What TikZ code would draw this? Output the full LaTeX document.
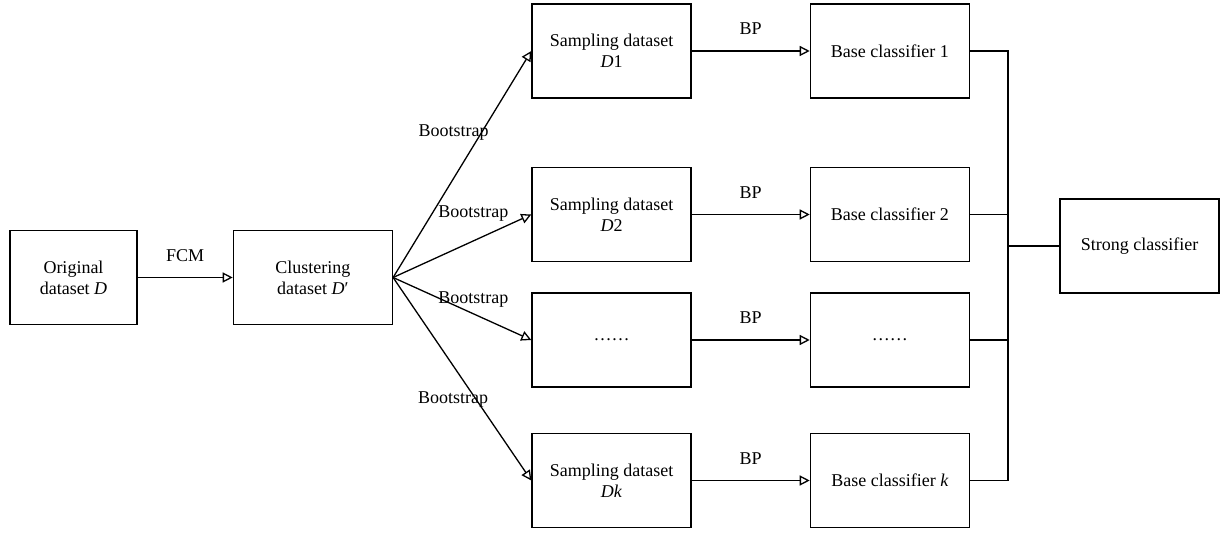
\documentclass[tikz,border=0pt]{standalone}
\usepackage{fontspec}
\setmainfont{Liberation Serif}
\usetikzlibrary{positioning,arrows.meta}

\begin{document}
\begin{tikzpicture}[x=0.5pt,y=-0.5pt,
            font=\fontsize{9}{10.5}\selectfont,
            simplebox/.style={
                rectangle, draw=black, line width=0.7pt,
                minimum width=79.5pt,
                minimum height=47pt,
                inner sep=2pt, align=center
            },
            flow/.style={-{Triangle[open,length=5pt,width=5pt]}, line width=0.65pt},
            joint/.style={line width=0.65pt},
        ]
            \useasboundingbox (0,0) rectangle (1225,533);

            \node [simplebox,minimum width=63.5pt] (orig) at (73.5,277.5) {Original\\dataset \textit{D}};
            \node [simplebox] (clust) [ right= 47.5pt of orig ] {Clustering\\dataset \textit{D}′};

            \node [simplebox] (samp1) at (611.5,51) {Sampling dataset\\\textit{D}1};
            \node [simplebox] (samp2) at (611.5,214.5) {Sampling dataset\\\textit{D}2};
            \node [simplebox] (sampdots) at (611.5,340) {……};
            \node [simplebox] (sampk) at (611.5,480.5) {Sampling dataset\\\textit{Dk}};

            \node [simplebox] (base1) [ right= 59pt of samp1 ] {Base classifier 1};
            \node [simplebox] (base2) [ right= 59pt of samp2 ] {Base classifier 2};
            \node [simplebox] (basedots) [ right= 59pt of sampdots ] {……};
            \node [simplebox] (basek) [ right= 59pt of sampk ] {Base classifier \textit{k}};

            \node [simplebox] (strong) at (1139.5,246) {Strong classifier};
            \coordinate (jn) at (1008,246);

            \draw[flow] (orig) -- (clust) node [above=4.5pt,midway] {FCM};

            \draw[flow] (clust.east) -- (samp1.west) node [pos=0.64,xshift=-14pt] {Bootstrap};
            \draw[flow] (clust.east) -- (samp2.west) node [pos=0.58,yshift=13.5pt] {Bootstrap};
            \draw[flow] (clust.east) -- (sampdots.west) node [pos=0.58,yshift=7pt] {Bootstrap};
            \draw[flow] (clust.east) -- (sampk.west) node [pos=0.6,xshift=-11.5pt] {Bootstrap};

            \draw[flow] (samp1) -- (base1) node [above=4.5pt,midway] {BP};
            \draw[flow] (samp2) -- (base2) node [above=4.5pt,midway] {BP};
            \draw[flow] (sampdots) -- (basedots) node [above=4.5pt,midway] {BP};
            \draw[flow] (sampk) -- (basek) node [above=4.5pt,midway] {BP};

            \draw[joint] (base1.east) -| (jn);
            \draw[joint] (base2.east) -| (jn);
            \draw[joint] (basedots.east) -| (jn);
            \draw[joint] (basek.east) -| (jn);
            \draw[joint] (jn) -- (strong);

        \end{tikzpicture}
\end{document}
